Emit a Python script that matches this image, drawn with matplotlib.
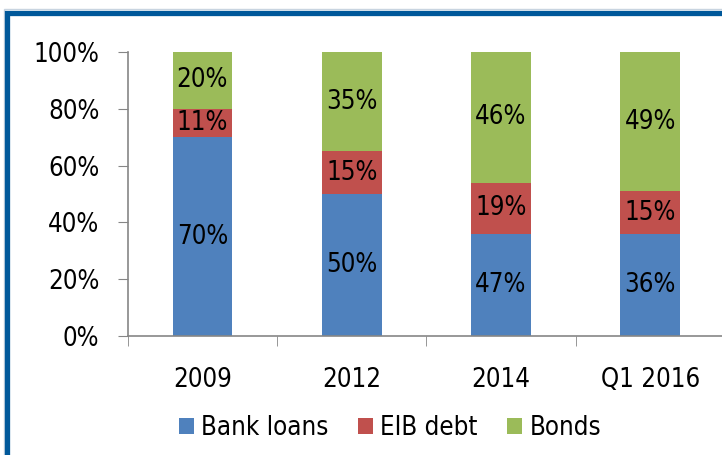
import matplotlib
matplotlib.use("Agg")
import matplotlib.pyplot as plt
from matplotlib.patches import Rectangle
from matplotlib.ticker import FuncFormatter

# categories and shares (bar heights as drawn, labels as printed)
periods = ["2009", "2012", "2014", "Q1 2016"]
bank_loans = [70, 50, 36, 36]
eib_debt = [10, 15, 18, 15]
bonds = [20, 35, 46, 49]
bank_labels = ["70%", "50%", "47%", "36%"]
eib_labels = ["11%", "15%", "19%", "15%"]
bond_labels = ["20%", "35%", "46%", "49%"]

series = [
    ("Bank loans", bank_loans, bank_labels, "#4F81BD"),
    ("EIB debt", eib_debt, eib_labels, "#C0504D"),
    ("Bonds", bonds, bond_labels, "#9BBB59"),
]

plt.rcParams["font.family"] = "DejaVu Sans"
plt.rcParams["font.stretch"] = "condensed"
plt.rcParams["font.size"] = 18.5

fig = plt.figure(figsize=(7.22, 4.55), dpi=100)
ax = fig.add_axes([0.177, 0.2615, 0.827, 0.624])

x = list(range(len(periods)))
bottom = [0] * len(periods)
for name, vals, labels, color in series:
    bars = ax.bar(x, vals, width=0.4, bottom=bottom, color=color, label=name)
    for rect, lab in zip(bars, labels):
        ax.text(rect.get_x() + rect.get_width() / 2,
                rect.get_y() + rect.get_height() / 2, lab,
                ha="center", va="center", color="black")
    bottom = [b + v for b, v in zip(bottom, vals)]

ax.set_xlim(-0.5, 3.5)
ax.set_ylim(0, 100)
ax.set_yticks(range(0, 101, 20))
ax.yaxis.set_major_formatter(FuncFormatter(lambda v, _: f"{v:.0f}%"))
ax.set_xticks(x)
ax.set_xticklabels(periods)
ax.set_xticks([-0.5, 0.5, 1.5, 2.5, 3.5], minor=True)
ax.tick_params(axis="x", which="major", length=0, pad=22)
ax.tick_params(axis="x", which="minor", length=7, color="#868686", direction="out")
ax.tick_params(axis="y", length=7.5, color="#868686", direction="out", pad=13)
for side in ["top", "right"]:
    ax.spines[side].set_visible(False)
for side in ["left", "bottom"]:
    ax.spines[side].set_color("#868686")
    ax.spines[side].set_linewidth(1.2)

fig.legend(loc="center", bbox_to_anchor=(0.54, 0.059), ncol=3, frameon=False,
           handlelength=0.6, handleheight=0.6, handletextpad=0.28,
           columnspacing=1.13)

# dark blue frame around the chart (right and bottom run off the image)
fig.patches.append(Rectangle((4 / 722, -0.05), 1.2, 1 - 9 / 455 + 0.05,
                             transform=fig.transFigure, fill=False,
                             edgecolor="#C8D4E0", linewidth=1))
fig.patches.append(Rectangle((7 / 722, -0.05), 1.2, 1 - 12.5 / 455 + 0.05,
                             transform=fig.transFigure, fill=False,
                             edgecolor="#00589A", linewidth=3.8))

fig.savefig("out.png", dpi=100)
